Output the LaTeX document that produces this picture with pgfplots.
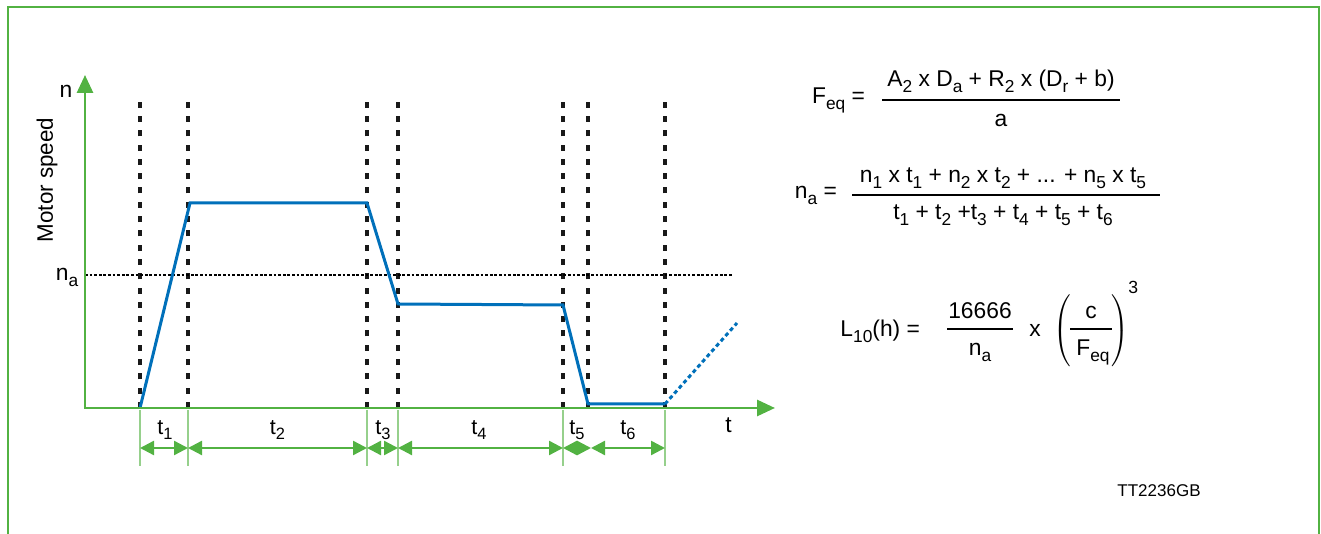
\documentclass[border=0pt]{standalone}
\usepackage{pgfplots}
\pgfplotsset{compat=1.18}
\usepackage{pgfplotstable}
\usepackage{fontspec}
\setmainfont{Liberation Sans}
\usetikzlibrary{arrows.meta}

\definecolor{frameGreen}{RGB}{82,178,66}
\definecolor{extGreen}{RGB}{150,208,140}
\definecolor{speedBlue}{RGB}{0,112,186}

% subscript in the text font
\newcommand\sub[1]{\raisebox{-0.42ex}{\scalebox{0.76}{#1}}}
\newcommand\fsize{\fontsize{11.4}{13}\selectfont}

% motor speed profile over one duty cycle (t, n)
\pgfplotstableread{
t   n
55  0
105 205
282 205
313 104
478 103
503 4
580 4
}\speedprofile

% start of the next cycle
\pgfplotstableread{
t   n
580 4
652 85
}\speednext

% boundaries of the phases t1 ... t6
\pgfplotstableread{
t   n
55  311
103 311
282 311
313 311
478 311
503 311
580 311
}\phaseedges

% average speed n_a
\pgfplotstableread{
t   n
0   133
647 133
}\avgspeed

\begin{document}
\begin{tikzpicture}
\begin{axis}[
  scale only axis,
  width=660.5pt, height=267pt,
  xmin=-85, xmax=1236,
  ymin=-126, ymax=408,
  hide axis,
  clip=false,
]
% page frame
\draw[frameGreen, line width=1.2pt]
  (axis cs:-77,-130) -- (axis cs:-77,401) -- (axis cs:1234,401) -- (axis cs:1234,-130);

% phase boundaries
\addplot[ycomb, black!90, line width=1.75pt, dash pattern=on 3pt off 4.15pt, mark=none]
  table[x=t, y=n] {\phaseedges};

% average speed
\addplot[black, line width=0.65pt, dash pattern=on 1.4pt off 0.9pt, mark=none]
  table[x=t, y=n] {\avgspeed};

% speed profile
\addplot[speedBlue, line width=1.5pt, mark=none, line join=miter]
  table[x=t, y=n] {\speedprofile};
\addplot[speedBlue, line width=1.5pt, mark=none, dash pattern=on 2pt off 1.5pt]
  table[x=t, y=n] {\speednext};

% axes
\draw[frameGreen, line width=1.4pt, -{Triangle[length=9pt, width=8pt]}]
  (axis cs:0,-0.7) -- (axis cs:0,333);
\draw[frameGreen, line width=1.4pt, -{Triangle[length=9pt, width=8pt]}]
  (axis cs:-0.7,0) -- (axis cs:690,0);

% axis labels
\node[anchor=base, font=\fsize] at (axis cs:-19,310) {n};
\node[rotate=90, font=\fontsize{11.2}{13}\selectfont] at (axis cs:-38,228) {Motor speed};
\node[anchor=base, font=\fsize] at (axis cs:-18,127) {n\sub{a}};
\node[anchor=base, font=\fsize] at (axis cs:643.5,-25) {t};

% phase durations
\foreach \xa in {55,103,282,313,478,580}{
  \edef\cmd{\noexpand\draw[extGreen, line width=0.6pt] (axis cs:\xa,-2) -- (axis cs:\xa,-58);}
  \cmd
}
\foreach \xa/\xb in {55/103, 103/282, 282/313, 313/478, 478/506, 506/580}{
  \edef\cmd{\noexpand\draw[frameGreen, line width=1.2pt,
    {Triangle[length=7pt, width=7pt]}-{Triangle[length=7pt, width=7pt]}]
    (axis cs:\xa,-40) -- (axis cs:\xb,-40);}
  \cmd
}
\foreach \xm/\k in {80/1, 192.5/2, 298/3, 394/4, 492/5, 543/6}{
  \edef\cmd{\noexpand\node[anchor=base, font=\noexpand\fontsize{10.8}{12}\noexpand\selectfont]
    at (axis cs:\xm,-27) {t\noexpand\sub{\k}};}
  \cmd
}

% equivalent load
\node[anchor=base east, font=\fsize] at (axis cs:787,304) {F\sub{eq} =};
\draw[black, line width=1.25pt] (axis cs:797,308) -- (axis cs:1035,308);
\node[anchor=base, font=\fsize] at (axis cs:916,321)
  {A\sub{2} x D\sub{a} + R\sub{2} x (D\sub{r} + b)};
\node[anchor=base, font=\fsize] at (axis cs:916,281) {a};

% average speed
\node[anchor=base east, font=\fsize] at (axis cs:759,209) {n\sub{a} =};
\draw[black, line width=1.25pt] (axis cs:767,213) -- (axis cs:1075,213);
\node[anchor=base, font=\fsize] at (axis cs:918,225)
  {n\sub{1} x t\sub{1} + n\sub{2} x t\sub{2} + ... + n\sub{5} x t\sub{5}};
\node[anchor=base, font=\fsize] at (axis cs:918,188)
  {t\sub{1} + t\sub{2} +t\sub{3} + t\sub{4} + t\sub{5} + t\sub{6}};

% nominal life
\node[anchor=base east, font=\fsize] at (axis cs:842,71) {L\sub{10}(h) =};
\draw[black, line width=1.25pt] (axis cs:862,79) -- (axis cs:928,79);
\node[anchor=base, font=\fsize] at (axis cs:895,89) {16666};
\node[anchor=base, font=\fsize] at (axis cs:895,52) {n\sub{a}};
\node[anchor=base, font=\fsize] at (axis cs:950,71) {x};
\node[inner sep=0pt] at (axis cs:977,77)
  {$\left(\vcenter{\hbox{\rule{0pt}{39pt}}}\right.\kern-\nulldelimiterspace$};
\node[inner sep=0pt] at (axis cs:1035,77)
  {$\kern-\nulldelimiterspace\left.\vcenter{\hbox{\rule{0pt}{39pt}}}\right)$};
\draw[black, line width=1.2pt] (axis cs:985,79) -- (axis cs:1027,79);
\node[anchor=base, font=\fsize] at (axis cs:1006,89) {c};
\node[anchor=base, font=\fsize] at (axis cs:1008,52) {F\sub{eq}};
\node[anchor=base west, inner sep=0pt, font=\fontsize{8.8}{10}\selectfont] at (axis cs:1043,114) {3};

% drawing reference
\node[anchor=base, font=\fontsize{8.5}{10}\selectfont] at (axis cs:1074,-89) {TT2236GB};
\end{axis}
\pgfresetboundingbox
\path (current axis.south west) rectangle (current axis.north east);
\end{tikzpicture}
\end{document}
